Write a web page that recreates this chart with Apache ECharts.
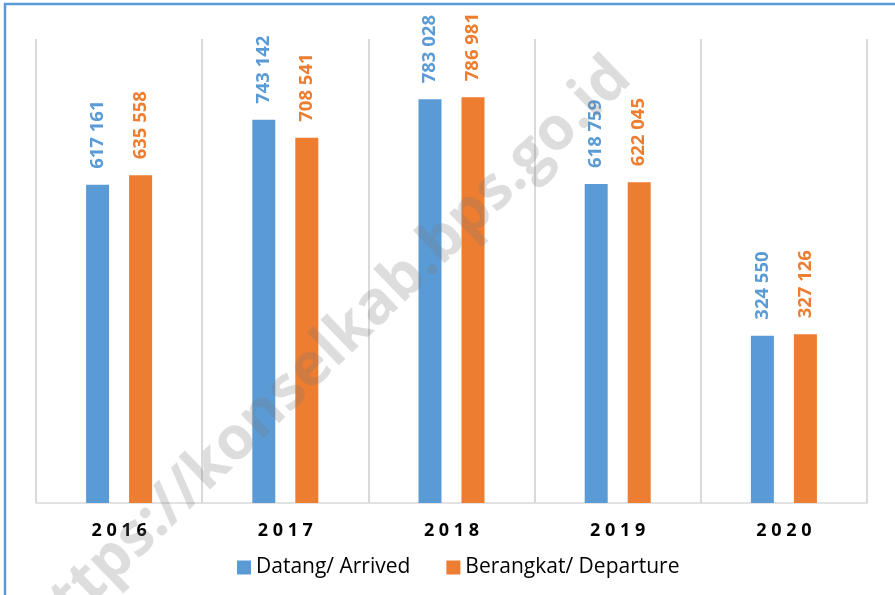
<!DOCTYPE html>
<html>
<head>
<meta charset="utf-8">
<script src="https://cdn.jsdelivr.net/npm/echarts@6/dist/echarts.min.js"></script>
<style>
  html, body { margin: 0; padding: 0; background: #fff; }
  #main { width: 895px; height: 595px; }
</style>
</head>
<body>
<div id="main"></div>
<script>
var years = ['2016', '2017', '2018', '2019', '2020'];
var arrived = [617161, 743142, 783028, 618759, 324550];
var departure = [635558, 708541, 786981, 622045, 327126];
var seriesNames = ['Datang/ Arrived', 'Berangkat/ Departure'];

var blue = '#5b9bd5';
var orange = '#ed7d31';
var fontFam = '"Open Sans", "Noto Sans", sans-serif';

// 617161 -> "617 161"
function fmt(p) {
    return String(p.value).replace(/\B(?=(\d{3})+(?!\d))/g, ' ');
}

function labelStyle(c) {
    return {
        show: true,
        position: 'top',
        rotate: 90,
        align: 'left',
        verticalAlign: 'middle',
        distance: 16,
        color: c,
        fontFamily: fontFam,
        fontWeight: 'bold',
        fontSize: 18.5,
        formatter: fmt
    };
}

var option = {
    animation: false,
    grid: {
        left: 36,
        right: 28,
        top: 39,
        bottom: 92
    },
    graphic: {
        elements: [
            {
                type: 'rect',
                shape: { x: 5, y: 4, width: 1000, height: 1000 },
                style: { fill: 'none', stroke: blue, lineWidth: 2.5 },
                z: 0
            },
            {
                // watermark over the whole picture
                type: 'text',
                x: 327,
                y: 353,
                rotation: Math.PI * 44 / 180,
                style: {
                    text: 'https://konselkab.bps.go.id',
                    fill: 'rgba(120,120,120,0.25)',
                    font: 'bold 60px "Open Sans", sans-serif',
                    align: 'center',
                    verticalAlign: 'middle'
                },
                z: 100,
                silent: true
            }
        ]
    },
    legend: {
        bottom: 12,
        left: 232,
        itemWidth: 14,
        itemHeight: 14,
        itemGap: 36,
        icon: 'rect',
        textStyle: { fontFamily: fontFam, fontSize: 21, color: '#000' },
        data: seriesNames
    },
    xAxis: {
        type: 'category',
        data: years,
        axisTick: { show: false },
        axisLine: { lineStyle: { color: '#d9d9d9', width: 1.5 } },
        splitLine: { show: true, lineStyle: { color: '#d9d9d9', width: 2 } },
        axisLabel: {
            margin: 19,
            color: '#000',
            fontFamily: fontFam,
            fontWeight: 'bold',
            fontSize: 18,
            formatter: function (v) { return v.split('').join(' '); }
        }
    },
    yAxis: {
        type: 'value',
        min: 0,
        max: 900000,
        show: false,
        splitLine: { show: false }
    },
    series: [
        {
            name: seriesNames[0],
            type: 'bar',
            data: arrived,
            barWidth: 23,
            barGap: '87%',
            itemStyle: { color: blue },
            label: labelStyle(blue)
        },
        {
            name: seriesNames[1],
            type: 'bar',
            data: departure,
            barWidth: 23,
            itemStyle: { color: orange },
            label: labelStyle(orange)
        }
    ]
};

echarts.init(document.getElementById('main')).setOption(option);
</script>
</body>
</html>
